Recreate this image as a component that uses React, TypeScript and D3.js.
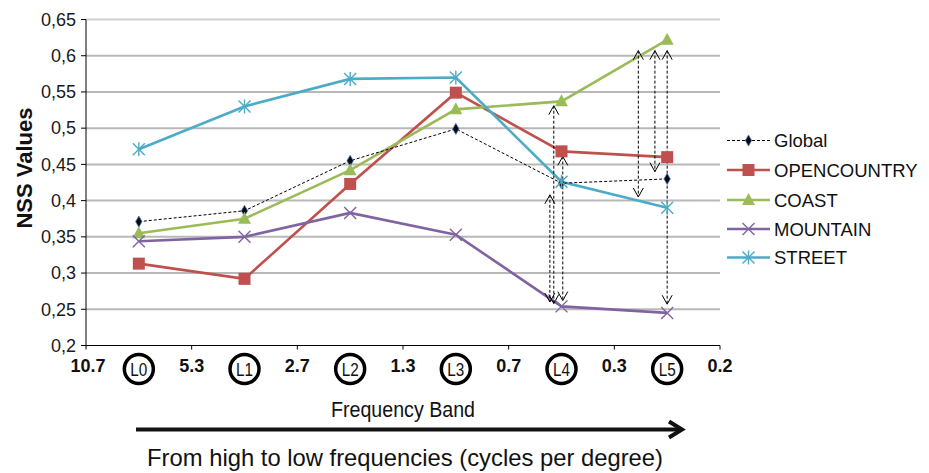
import React from "react";
import * as d3 from "d3";

const bands = ["L0", "L1", "L2", "L3", "L4", "L5"];
const freqTicks = ["10.7", "5.3", "2.7", "1.3", "0.7", "0.3", "0.2"];
const yTicks = [0.2, 0.25, 0.3, 0.35, 0.4, 0.45, 0.5, 0.55, 0.6, 0.65];

const globalVals = [0.371, 0.386, 0.455, 0.499, 0.424, 0.43];
const openCountry = [0.313, 0.292, 0.423, 0.549, 0.468, 0.46];
const coast = [0.355, 0.375, 0.442, 0.526, 0.537, 0.622];
const mountain = [0.344, 0.35, 0.383, 0.353, 0.254, 0.245];
const street = [0.471, 0.53, 0.568, 0.57, 0.426, 0.39];

const seriesNames = ["Global", "OPENCOUNTRY", "COAST", "MOUNTAIN", "STREET"];
const seriesValues = [globalVals, openCountry, coast, mountain, street];
const seriesColors = ["#000000", "#C0504D", "#9BBB59", "#8064A2", "#4BACC6"];
const seriesMarkers = ["diamond", "square", "triangle", "x", "star"];

// annotation arrows: band, offset (fraction of band width), from, to
const arrowBands = ["L4", "L4", "L4", "L5", "L5", "L5"];
const arrowOffsets = [-0.11, -0.073, 0.012, -0.273, -0.116, 0];
const arrowTops = [0.408, 0.531, 0.461, 0.607, 0.607, 0.607];
const arrowBottoms = [0.26, 0.258, 0.262, 0.405, 0.44, 0.257];

const FONT = "'Liberation Sans', Arial, Helvetica, sans-serif";

function Marker({ type, x, y, color }: { type: string; x: number; y: number; color: string }) {
  if (type === "diamond") {
    const p = d3.symbol(d3.symbolDiamond, 36)();
    return <path d={p!} transform={`translate(${x},${y})`} fill="#0a0a14" stroke="#4F81BD" strokeWidth={0.8} />;
  }
  if (type === "square") {
    return <rect x={x - 6} y={y - 6} width={12} height={12} fill={color} />;
  }
  if (type === "triangle") {
    return <path d={`M${x},${y - 7}L${x + 6.5},${y + 5}L${x - 6.5},${y + 5}Z`} fill={color} />;
  }
  if (type === "x") {
    return (
      <g stroke={color} strokeWidth={1.4}>
        <line x1={x - 6} y1={y - 6} x2={x + 6} y2={y + 6} />
        <line x1={x - 6} y1={y + 6} x2={x + 6} y2={y - 6} />
      </g>
    );
  }
  return (
    <g stroke={color} strokeWidth={1.4}>
      <line x1={x - 6} y1={y - 6} x2={x + 6} y2={y + 6} />
      <line x1={x - 6} y1={y + 6} x2={x + 6} y2={y - 6} />
      <line x1={x} y1={y - 7} x2={x} y2={y + 7} />
    </g>
  );
}

export default function App() {
  const W = 929;
  const H = 473;
  const left = 86;
  const right = 720;
  const top = 19.5;
  const bottom = 345.5;

  const x = d3.scaleBand<string>().domain(bands).range([left, right]).padding(0);
  const y = d3.scaleLinear().domain([0.2, 0.65]).range([bottom, top]);
  const cx = (b: string) => (x(b) as number) + x.bandwidth() / 2;
  const line = d3
    .line<number>()
    .x((_, i) => cx(bands[i]))
    .y((d) => y(d));

  const boundaries = d3.range(bands.length + 1).map((i) => left + i * x.bandwidth());

  const legendY = [140.5, 170, 200, 229, 257.5];

  return (
    <svg width={W} height={H} style={{ position: "absolute", left: 0, top: 0, background: "#fff" }} fontFamily={FONT}>
      {/* gridlines */}
      {yTicks.slice(1).map((t) => (
        <line key={t} x1={left} x2={right} y1={y(t)} y2={y(t)} stroke={t === 0.65 ? "#d0d0d0" : "#b8b8b8"} strokeWidth={2} />
      ))}
      {/* y axis */}
      <line x1={left} x2={left} y1={top} y2={bottom} stroke="#000" strokeWidth={1} />
      {yTicks.map((t) => (
        <g key={t}>
          <line x1={left - 5} x2={left} y1={y(t)} y2={y(t)} stroke="#000" />
          <text x={76} y={y(t)} dy="0.35em" textAnchor="end" fontSize={18} fill="#1a1a1a">
            {String(t).replace(".", ",")}
          </text>
        </g>
      ))}
      <text transform={`translate(32,168) rotate(-90)`} textAnchor="middle" fontSize={22} fontWeight="bold" fill="#111">
        NSS Values
      </text>
      {/* x axis */}
      <line x1={left} x2={right} y1={bottom} y2={bottom} stroke="#000" strokeWidth={1} />
      {boundaries.map((bx, i) => (
        <g key={i}>
          <line x1={bx} x2={bx} y1={bottom} y2={bottom + 4} stroke="#000" />
          <text x={i === 0 ? bx + 2 : bx} y={371.5} textAnchor="middle" fontSize={18} fontWeight="bold" fill="#111">
            {freqTicks[i]}
          </text>
        </g>
      ))}
      {bands.map((b) => (
        <g key={b}>
          <circle cx={cx(b)} cy={369} r={14.5} fill="none" stroke="#000" strokeWidth={3.5} />
          <text x={cx(b)} y={376} textAnchor="middle" fontSize={19} fill="#111" textLength={17} lengthAdjust="spacingAndGlyphs">
            {b}
          </text>
        </g>
      ))}
      <text x={403} y={416.5} textAnchor="middle" fontSize={22} fill="#111" textLength={144} lengthAdjust="spacingAndGlyphs">
        Frequency Band
      </text>
      {/* big arrow */}
      <line x1={136} x2={681} y1={429.5} y2={429.5} stroke="#111" strokeWidth={4} />
      <path d="M669,421.5L682,429.5L669,437.5" fill="none" stroke="#111" strokeWidth={4} />
      <text x={405} y={466} textAnchor="middle" fontSize={24.5} fill="#111" textLength={516} lengthAdjust="spacingAndGlyphs">
        From high to low frequencies (cycles per degree)
      </text>

      {/* series lines */}
      {seriesValues.map((vals, si) =>
        si === 0 ? null : (
          <path key={si} d={line(vals)!} fill="none" stroke={seriesColors[si]} strokeWidth={2.6} />
        )
      )}
      <path d={line(globalVals)!} fill="none" stroke="#000" strokeWidth={1} strokeDasharray="3,2" />

      {/* annotation arrows */}
      {arrowBands.map((b, i) => {
        const ax = cx(b) + arrowOffsets[i] * x.bandwidth();
        const yt = y(arrowTops[i]);
        const yb = y(arrowBottoms[i]);
        return (
          <g key={i} stroke="#000" strokeWidth={1} fill="none">
            <line x1={ax} x2={ax} y1={yt} y2={yb} strokeDasharray="3,2" />
            <path d={`M${ax - 5},${yt + 9}L${ax},${yt}L${ax + 5},${yt + 9}`} />
            <path d={`M${ax - 5},${yb - 9}L${ax},${yb}L${ax + 5},${yb - 9}`} />
          </g>
        );
      })}

      {/* markers */}
      {seriesValues.map((vals, si) =>
        vals.map((v, i) => (
          <Marker key={`${si}-${i}`} type={seriesMarkers[si]} x={cx(bands[i])} y={y(v)} color={seriesColors[si]} />
        ))
      )}

      {/* legend */}
      {seriesNames.map((n, si) => (
        <g key={n}>
          {si === 0 ? (
            <line x1={727} x2={770} y1={legendY[si]} y2={legendY[si]} stroke="#000" strokeWidth={1} strokeDasharray="3,2" />
          ) : (
            <line x1={727} x2={770} y1={legendY[si]} y2={legendY[si]} stroke={seriesColors[si]} strokeWidth={2.6} />
          )}
          <Marker type={seriesMarkers[si]} x={748.5} y={legendY[si]} color={seriesColors[si]} />
          <text x={774} y={legendY[si]} dy="0.36em" fontSize={18.5} fill="#111">
            {n}
          </text>
        </g>
      ))}
    </svg>
  );
}
